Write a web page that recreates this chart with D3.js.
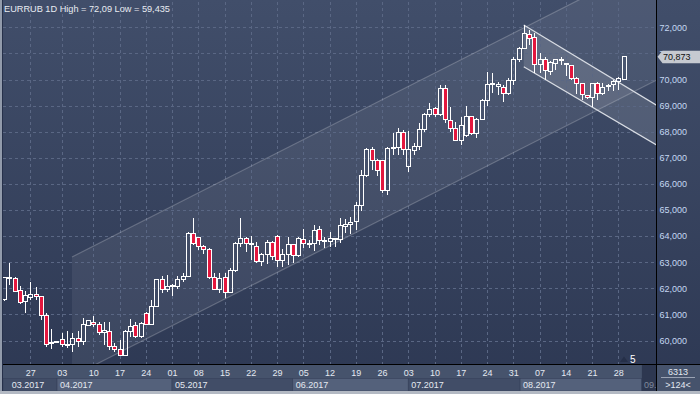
<!DOCTYPE html>
<html>
<head>
<meta charset="utf-8">
<script src="https://cdn.jsdelivr.net/npm/d3@7"></script>
<style>
  body { margin: 0; background: #2e3a54; }
  svg { display: block; font-family: "Liberation Sans", Arial, sans-serif; }
</style>
</head>
<body>
<div id="chart"></div>
<script>
// daily bars, EURRUB, index 0 = first visible bar
var opens = [61.58,62.36,62.36,61.90,61.49,61.64,61.77,61.69,60.94,59.87,59.93,60.02,59.81,59.83,60.08,59.95,60.57,60.70,60.62,60.30,
  60.36,59.76,59.66,59.44,60.34,60.56,60.15,61.04,60.62,61.30,62.32,61.97,62.05,62.06,62.32,62.45,64.11,63.94,63.62,63.50,
  62.42,61.96,62.42,61.83,62.68,63.72,63.91,63.68,63.62,63.02,63.30,63.76,63.98,63.08,63.28,63.66,63.24,63.88,63.70,63.72,
  64.26,63.83,63.79,63.90,63.87,64.36,64.45,64.55,65.17,66.32,67.30,66.89,66.89,65.74,67.36,67.40,67.98,66.66,67.27,67.43,
  68.09,68.67,68.89,68.64,69.64,68.41,68.13,67.66,67.87,68.58,67.94,68.47,69.21,69.79,69.75,69.70,69.47,69.98,70.75,71.19,
  71.74,71.62,70.58,70.77,70.30,70.62,70.75,70.62,70.52,70.05,69.85,69.40,69.32,69.85,69.47,69.73,69.79,69.94,70.00];
var highs = [62.45,62.96,62.45,62.09,61.90,62.23,62.06,61.72,61.04,60.44,59.99,60.27,60.38,60.30,60.36,60.85,60.76,60.94,60.72,60.72,
  60.72,59.92,60.02,60.40,60.82,60.72,60.72,61.10,61.55,62.33,62.48,62.51,62.17,62.47,62.60,64.14,64.68,63.98,63.66,63.56,
  62.60,62.60,62.57,62.77,63.79,64.71,63.98,64.00,63.79,63.37,63.85,63.82,64.04,63.50,63.98,63.70,63.95,64.26,63.85,64.43,
  64.39,63.98,64.17,63.92,64.68,64.64,64.74,65.32,66.53,67.36,67.40,66.94,66.92,67.43,67.96,68.13,68.07,68.04,67.55,68.32,
  68.70,69.09,68.93,69.79,69.79,68.93,68.38,68.58,68.98,68.60,68.51,69.24,70.30,70.26,69.92,69.79,70.04,70.87,71.26,72.09,
  71.90,71.77,71.00,70.85,70.72,70.77,70.85,70.64,70.56,70.08,69.88,69.41,69.88,69.90,69.85,69.83,69.98,70.08,70.90];
var lows = [61.50,62.13,61.85,61.40,61.07,61.55,61.55,60.79,59.76,59.67,59.92,59.76,59.73,59.55,59.76,59.83,60.56,60.53,60.21,59.83,
  59.64,59.57,59.435,59.44,60.14,60.11,60.10,60.60,60.60,61.29,61.81,61.85,61.72,61.99,62.23,62.45,63.66,63.47,63.30,62.36,
  61.93,61.81,61.62,61.81,62.64,63.57,63.40,63.08,62.96,62.85,62.93,63.08,62.83,62.83,62.89,62.96,63.21,63.53,63.53,63.44,
  63.66,63.53,63.60,63.60,63.72,64.10,64.08,64.23,64.97,66.28,66.53,66.30,65.66,65.58,67.11,67.11,67.11,66.47,67.11,67.30,
  68.00,68.58,68.55,68.60,68.32,68.00,67.64,67.49,67.81,67.87,67.75,68.45,68.99,69.50,69.41,69.15,69.41,69.79,70.68,71.16,
  71.32,70.24,70.24,69.98,70.17,70.36,70.56,70.13,69.98,69.45,69.21,69.24,68.93,69.21,69.41,69.57,69.57,69.60,69.98];
var closes = [62.41,62.41,61.87,61.45,61.74,61.77,61.69,60.94,59.85,59.92,59.98,59.85,59.83,60.08,59.95,60.63,60.75,60.60,60.31,60.40,
  59.76,59.64,59.44,60.36,60.53,60.15,60.66,60.62,61.32,62.32,61.96,62.06,62.10,62.32,62.47,64.11,63.72,63.60,63.49,62.41,
  61.96,62.38,61.85,62.70,63.72,63.91,63.72,63.70,63.02,63.30,63.76,63.21,63.08,63.28,63.66,63.24,63.89,63.72,63.72,64.23,
  63.82,63.85,63.91,63.92,64.39,64.46,64.53,65.19,66.34,67.30,66.88,66.53,65.74,67.36,67.40,67.98,67.30,67.32,67.45,68.09,
  68.67,68.86,68.66,69.64,68.45,68.13,67.68,68.22,68.58,67.94,68.45,69.21,69.79,69.85,69.80,69.45,69.96,70.75,71.19,71.77,
  71.58,70.59,70.77,70.34,70.65,70.75,70.77,70.56,70.05,69.85,69.41,69.32,69.85,69.47,69.69,69.77,69.92,70.02,70.873];

var priceTicks = [60, 61, 62, 63, 64, 65, 66, 67, 68, 69, 70, 71, 72];
var dayTicks = [5, 11, 17, 22, 27, 32, 37, 42, 47, 52, 57, 62, 67, 72, 77, 82, 87, 92, 97, 102, 107, 112, 117];
var dayLabels = ["27","03","10","17","24","01","08","15","22","29","05","12","19","26","03","10","17","24","31","07","14","21","28"];
var monthStarts = [0.9, 10.1, 32, 55, 77, 98.3, 121.5];
var monthLabels = ["03.2017","04.2017","05.2017","06.2017","07.2017","08.2017","09."];

// channels: [index, price] end points
var upChannelTop = [[12.95, 63.2], [125, 74.63]];
var upChannelBottom = [[12.95, 58.62], [125, 70.05]];
var downChannelTop = [[99, 72.09], [125, 68.93]];
var downChannelBottom = [[99, 70.49], [125, 67.41]];

var lastPrice = 70.873;

var W = 700, H = 394;
var plotL = 3, plotR = 656.5, plotB = 364.5;

var svg = d3.select("#chart").append("svg")
  .attr("width", W)
  .attr("height", H);

var defs = svg.append("defs");
var grad = defs.append("linearGradient")
  .attr("id", "bg")
  .attr("x1", 0).attr("y1", 0).attr("x2", 0).attr("y2", 1);
grad.append("stop").attr("offset", "0%").attr("stop-color", "#414e6a");
grad.append("stop").attr("offset", "100%").attr("stop-color", "#2d3853");

defs.append("clipPath").attr("id", "plotClip")
  .append("rect")
  .attr("x", plotL).attr("y", 0)
  .attr("width", plotR - plotL).attr("height", plotB);

svg.append("rect")
  .attr("width", W).attr("height", H)
  .attr("fill", "url(#bg)");

var x = d3.scaleLinear().domain([0, 118]).range([4, 623.5]);
var y = d3.scaleLinear().domain([60, 72]).range([340.5, 27.3]);

var plot = svg.append("g").attr("clip-path", "url(#plotClip)");

// channel fills
function band(top, bottom) {
  return [
    [x(top[0][0]), y(top[0][1])],
    [x(top[1][0]), y(top[1][1])],
    [x(bottom[1][0]), y(bottom[1][1])],
    [x(bottom[0][0]), y(bottom[0][1])]
  ];
}
var line = d3.line();

plot.append("path")
  .attr("d", line(band(upChannelTop, upChannelBottom)) + "Z")
  .attr("fill", "rgba(255,255,255,0.065)");
plot.append("path")
  .attr("d", line(band(downChannelTop, downChannelBottom)) + "Z")
  .attr("fill", "rgba(255,255,255,0.12)");

// grid
plot.append("g")
  .attr("class", "grid")
  .attr("transform", "translate(" + plotL + ",0)")
  .call(d3.axisLeft(y)
    .tickValues(priceTicks)
    .tickSize(-(plotR - plotL))
    .tickFormat(""));

plot.append("g")
  .attr("class", "grid")
  .attr("transform", "translate(0," + plotB + ")")
  .call(d3.axisBottom(x)
    .tickValues(dayTicks)
    .tickSize(-plotB)
    .tickFormat(""));

svg.selectAll(".grid .domain").remove();
svg.selectAll(".grid line")
  .attr("stroke", "#5a6784")
  .attr("stroke-dasharray", "3,3")
  .attr("shape-rendering", "crispEdges");

// channel lines
[upChannelTop, upChannelBottom].forEach(function (c) {
  plot.append("path")
    .attr("d", line(c.map(function (p) { return [x(p[0]), y(p[1])]; })))
    .attr("stroke", "rgba(255,255,255,0.22)")
    .attr("stroke-width", 1.2)
    .attr("fill", "none");
});
[downChannelTop, downChannelBottom].forEach(function (c) {
  plot.append("path")
    .attr("d", line(c.map(function (p) { return [x(p[0]), y(p[1])]; })))
    .attr("stroke", "#d9dde4")
    .attr("stroke-width", 1.2)
    .attr("fill", "none");
});

// candles
var candles = plot.append("g").attr("shape-rendering", "crispEdges");
var bars = candles.selectAll("g")
  .data(opens.map(function (o, i) {
    return { i: i, o: o, h: highs[i], l: lows[i], c: closes[i] };
  }))
  .enter().append("g");

function cx(d) { return Math.round(x(d.i)) + 0.5; }

// wick above and below the body, so hollow bodies stay empty
bars.append("line")
  .attr("x1", cx).attr("x2", cx)
  .attr("y1", function (d) { return y(d.h); })
  .attr("y2", function (d) { return y(Math.max(d.o, d.c)); })
  .attr("stroke", "#ffffff");
bars.append("line")
  .attr("x1", cx).attr("x2", cx)
  .attr("y1", function (d) { return y(Math.min(d.o, d.c)); })
  .attr("y2", function (d) { return y(d.l); })
  .attr("stroke", "#ffffff");

bars.append("rect")
  .attr("x", function (d) { return Math.round(x(d.i)) - 1.5; })
  .attr("width", 4)
  .attr("y", function (d) { return y(Math.max(d.o, d.c)); })
  .attr("height", function (d) { return Math.max(1, Math.abs(y(d.o) - y(d.c))); })
  .attr("fill", function (d) { return d.c < d.o ? "#e3173e" : "none"; })
  .attr("stroke", "#ffffff")
  .attr("stroke-width", 1);

// bottom axis panel
svg.append("rect")
  .attr("x", plotL).attr("y", plotB)
  .attr("width", W - plotL).attr("height", 391 - plotB)
  .attr("fill", "#46536c");

var months = svg.append("g");
monthStarts.forEach(function (m, k) {
  var x0 = k == 0 ? plotL : x(m);
  var x1 = k < monthStarts.length - 1 ? x(monthStarts[k + 1]) : plotR;
  months.append("rect")
    .attr("x", x0).attr("y", 378.5)
    .attr("width", x1 - x0).attr("height", 12.5)
    .attr("fill", k % 2 ? "#54617b" : "#414d67")
    .attr("stroke", "#37425b")
    .attr("stroke-width", 0.6);
  if (k < monthStarts.length - 1) {
    months.append("text")
      .attr("x", x(m) + 3)
      .attr("y", 387.5)
      .attr("font-size", 9)
      .attr("fill", "#e4e9f1")
      .text(monthLabels[k]);
  }
});
// last, unfinished month column is darker
svg.append("rect")
  .attr("x", x(monthStarts[6])).attr("y", plotB)
  .attr("width", plotR - x(monthStarts[6])).attr("height", 391 - plotB)
  .attr("fill", "#2d3750");
svg.append("text")
  .attr("x", x(monthStarts[6]) + 2)
  .attr("y", 387.5)
  .attr("font-size", 9)
  .attr("fill", "#7f8a9d")
  .text(monthLabels[6]);

var xAxis = svg.append("g")
  .attr("transform", "translate(0," + plotB + ")")
  .call(d3.axisBottom(x)
    .tickValues(dayTicks)
    .tickSize(0)
    .tickPadding(5)
    .tickFormat(function (d, i) { return dayLabels[i]; }));
xAxis.select(".domain").remove();
xAxis.selectAll("text")
  .attr("font-size", 9)
  .attr("font-family", "Liberation Sans, Arial, sans-serif")
  .attr("fill", "#e4e9f1");

// right axis panel
var yAxis = svg.append("g")
  .attr("transform", "translate(" + plotR + ",0)")
  .call(d3.axisRight(y)
    .tickValues(priceTicks)
    .tickSize(0)
    .tickPadding(3)
    .tickFormat(function (d) { return d.toFixed(3).replace(".", ","); }));
yAxis.select(".domain").remove();
yAxis.selectAll("text")
  .attr("font-size", 9)
  .attr("font-family", "Liberation Sans, Arial, sans-serif")
  .attr("fill", "#c5d8f2");

// axis frame lines
svg.append("line")
  .attr("x1", plotR).attr("x2", plotR)
  .attr("y1", 0).attr("y2", 391)
  .attr("stroke", "#000").attr("shape-rendering", "crispEdges");
svg.append("line")
  .attr("x1", plotL).attr("x2", W)
  .attr("y1", plotB).attr("y2", plotB)
  .attr("stroke", "#000").attr("shape-rendering", "crispEdges");

// current price tag
var py = y(lastPrice);
svg.append("path")
  .attr("d", line([[657.5, py], [662.5, py - 6], [700, py - 6], [700, py + 6.5], [662.5, py + 6.5]]) + "Z")
  .attr("fill", "#c6cad1");
svg.append("text")
  .attr("x", 663).attr("y", py + 3.3)
  .attr("font-size", 9)
  .attr("fill", "#101010")
  .text(lastPrice.toFixed(3).replace(".", ","));

// bar counter box
svg.append("text")
  .attr("x", 678).attr("y", 375)
  .attr("text-anchor", "middle")
  .attr("font-size", 9)
  .attr("fill", "#e4e9f1")
  .text("6313");
svg.append("line")
  .attr("x1", 661).attr("x2", 695)
  .attr("y1", 377.5).attr("y2", 377.5)
  .attr("stroke", "#9aa3b4");
svg.append("text")
  .attr("x", 678).attr("y", 387.5)
  .attr("text-anchor", "middle")
  .attr("font-size", 9)
  .attr("fill", "#e4e9f1")
  .text(">124<");

// marker "5"
svg.append("path")
  .attr("d", line([[620, 362], [624, 356.5], [628, 362]]) + "Z")
  .attr("fill", "#252f48");
svg.append("text")
  .attr("x", 630).attr("y", 363)
  .attr("font-size", 10)
  .attr("fill", "#ffffff")
  .text("5");

// title
svg.append("text")
  .attr("x", 4).attr("y", 12)
  .attr("font-size", 9.2)
  .attr("fill", "#e8ecf2")
  .text("EURRUB 1D High = 72,09 Low = 59,435");

// outer frame
svg.append("rect").attr("x", 0).attr("y", 0).attr("width", 2).attr("height", H).attr("fill", "#929bab");
svg.append("rect").attr("x", 2).attr("y", 0).attr("width", 1).attr("height", H).attr("fill", "#26304a");
svg.append("rect").attr("x", 0).attr("y", 391).attr("width", W).attr("height", 3).attr("fill", "#b3b9c3");
</script>
</body>
</html>
